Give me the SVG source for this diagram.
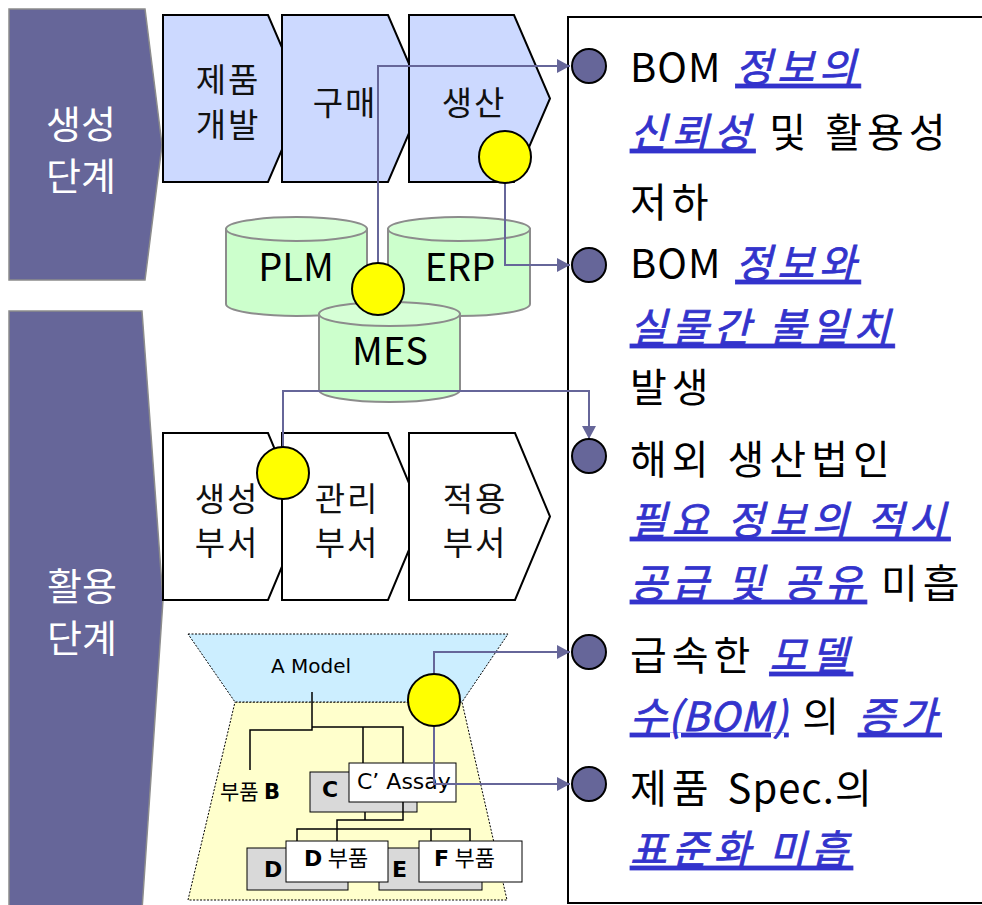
<svg xmlns="http://www.w3.org/2000/svg" width="982" height="905" viewBox="0 0 982 905">
  <style>
    .kr { font-family: "Noto Sans CJK KR", "Noto Sans", sans-serif; }
    .panel { fill: #666699; stroke: #8c8c8c; stroke-width: 1.5; }
    .ptxt { font-size: 38px; fill: #ffffff; text-anchor: middle; }
    .chev { stroke: #000; stroke-width: 2; stroke-linejoin: miter; }
    .blue { fill: #ccd9ff; }
    .white { fill: #ffffff; }
    .ctxt { font-size: 33px; fill: #111; text-anchor: middle; letter-spacing: 2px; }
    .cyl { fill: #ccffcc; stroke: #8c8c8c; stroke-width: 2; }
    .cyltop { fill: #d6ffd6; stroke: #8c8c8c; stroke-width: 2; }
    .dbtxt { font-size: 38px; fill: #000; text-anchor: middle; }
    .hot { fill: #ffff00; stroke: #000; stroke-width: 2; }
    .conn { fill: none; stroke: #666699; stroke-width: 2; }
    .bullet { fill: #666699; stroke: #000; stroke-width: 2; }
    .btxt { font-size: 40px; fill: #000; letter-spacing: 5px; }
    .lt { letter-spacing: 1px; }
    .em { fill: #3333cc; stroke: #3333cc; stroke-width: 0.8px; font-style: italic; text-decoration: underline; letter-spacing: 5px; }
    .em.tight { letter-spacing: 1px; }
    .dots { stroke: #000; stroke-width: 1; stroke-dasharray: 2 1.5; }
    .tree { fill: none; stroke: #000; stroke-width: 1.5; }
    .gbox { fill: #d9d9d9; stroke: #000; stroke-width: 1; }
    .wbox { fill: #ffffff; stroke: #000; stroke-width: 1; }
    .lat { font-family: "DejaVu Sans", "Liberation Sans", sans-serif; fill: #000; }
  </style>
  <defs>
    <marker id="arrow" markerUnits="userSpaceOnUse" markerWidth="14" markerHeight="14" refX="13" refY="7" orient="auto">
      <path d="M0,0 L13,7 L0,14 Z" fill="#666699"/>
    </marker>
  </defs>

  <!-- issues panel -->
  <g id="issues">
    <rect x="568" y="17" width="420" height="886" fill="#ffffff" stroke="#000" stroke-width="2"/>
    <g class="kr btxt">
      <text x="630" y="82"><tspan class="lt">BOM</tspan> <tspan class="em">정보의</tspan></text>
      <text x="630" y="147"><tspan class="em">신뢰성</tspan> 및 활용성</text>
      <text x="630" y="217">저하</text>
      <text x="630" y="278"><tspan class="lt">BOM</tspan> <tspan class="em">정보와</tspan></text>
      <text x="630" y="342"><tspan class="em">실물간 불일치</tspan></text>
      <text x="630" y="402">발생</text>
      <text x="630" y="474">해외 생산법인</text>
      <text x="630" y="535"><tspan class="em">필요 정보의 적시</tspan></text>
      <text x="630" y="598"><tspan class="em">공급 및 공유</tspan> 미흡</text>
      <text x="630" y="670">급속한 <tspan class="em">모델</tspan></text>
      <text x="630" y="731"><tspan class="em tight">수(BOM)</tspan> 의 <tspan class="em">증가</tspan></text>
      <text x="630" y="803">제품 <tspan class="lt">Spec.</tspan>의</text>
      <text x="630" y="864"><tspan class="em">표준화 미흡</tspan></text>
    </g>
  </g>

  <!-- stage panels -->
  <g id="stage-create">
    <path class="panel" d="M9,9 H145 L162,145 L145,280 H9 Z"/>
    <text class="kr ptxt" x="81" y="138">생성</text>
    <text class="kr ptxt" x="81" y="190">단계</text>
  </g>
  <g id="stage-use">
    <path class="panel" d="M9,311 H142 L163,600 L142,910 H9 Z"/>
    <text class="kr ptxt" x="82" y="600">활용</text>
    <text class="kr ptxt" x="82" y="652">단계</text>
  </g>

  <!-- process chevrons -->
  <g id="proc-dev">
    <path class="chev blue" d="M163,15 H268 L304,98.5 L268,182 H163 Z"/>
    <text class="kr ctxt" x="228" y="92">제품</text>
    <text class="kr ctxt" x="228" y="137">개발</text>
  </g>
  <g id="proc-buy">
    <path class="chev blue" d="M282,15 H388 L424,98.5 L388,182 H282 Z"/>
    <text class="kr ctxt" x="345" y="115">구매</text>
  </g>
  <g id="proc-make">
    <path class="chev blue" d="M409,15 H514 L550,98.5 L514,182 H409 Z"/>
    <text class="kr ctxt" x="474" y="115">생산</text>
  </g>

  <!-- systems -->
  <g id="db-plm">
    <path class="cyl" d="M226,229 V304 A70.5,12 0 0 0 367,304 V229 Z"/>
    <ellipse class="cyltop" cx="296.5" cy="229" rx="70.5" ry="12"/>
    <text class="kr dbtxt" x="296" y="281">PLM</text>
  </g>
  <g id="db-erp">
    <path class="cyl" d="M388,229 V304 A71,12 0 0 0 530,304 V229 Z"/>
    <ellipse class="cyltop" cx="459" cy="229" rx="71" ry="12"/>
    <text class="kr dbtxt" x="460" y="281">ERP</text>
  </g>
  <g id="db-mes">
    <path class="cyl" d="M319,314 V390 A70.5,12 0 0 0 460,390 V314 Z"/>
    <ellipse class="cyltop" cx="389.5" cy="314" rx="70.5" ry="12"/>
    <text class="kr dbtxt" x="390" y="365">MES</text>
  </g>

  <!-- departments -->
  <g id="dept-create">
    <path class="chev white" d="M163,433 H268 L303,516.5 L268,600 H163 Z"/>
    <text class="kr ctxt" x="227" y="511">생성</text>
    <text class="kr ctxt" x="227" y="555">부서</text>
  </g>
  <g id="dept-manage">
    <path class="chev white" d="M282,433 H388 L423,516.5 L388,600 H282 Z"/>
    <text class="kr ctxt" x="347" y="511">관리</text>
    <text class="kr ctxt" x="347" y="555">부서</text>
  </g>
  <g id="dept-apply">
    <path class="chev white" d="M409,433 H515 L550,516.5 L515,600 H409 Z"/>
    <text class="kr ctxt" x="475" y="511">적용</text>
    <text class="kr ctxt" x="475" y="555">부서</text>
  </g>

  <!-- BOM structure -->
  <g id="bom-tree">
    <polygon points="235,702 462,702 507,900 188,900" fill="#ffffcc" class="dots"/>
    <polygon points="188,634 508,634 462,702 235,702" fill="#cceeff" class="dots"/>
    <text class="lat" x="311" y="673" font-size="20" text-anchor="middle">A Model</text>
    <path class="tree" d="M312,692 V730 H250 V770"/>
    <path class="tree" d="M312,727 H403 V763"/>
    <path class="tree" d="M363,727 V772"/>
    <text x="220" y="799" font-size="21"><tspan class="kr">부품</tspan> <tspan class="lat" font-weight="bold">B</tspan></text>
    <rect class="gbox" x="310" y="772" width="107" height="40"/>
    <text class="lat" x="322" y="797" font-size="22" font-weight="bold">C</text>
    <rect class="wbox" x="349" y="763" width="107" height="39"/>
    <text class="lat" x="357" y="789" font-size="22">C’ Assay</text>
    <path class="tree" d="M365,812 V820"/>
    <path class="tree" d="M337,842 V820 H403 V802"/>
    <path class="tree" d="M297,849 V829 H470 V842"/>
    <path class="tree" d="M431,829 V842"/>
    <rect class="gbox" x="247" y="848" width="101" height="42"/>
    <text class="lat" x="264" y="877" font-size="22" font-weight="bold">D</text>
    <rect class="gbox" x="379" y="848" width="103" height="42"/>
    <text class="lat" x="392" y="877" font-size="22" font-weight="bold">E</text>
    <rect class="wbox" x="286" y="841" width="102" height="41"/>
    <text x="304" y="866" font-size="22"><tspan class="lat" font-weight="bold">D</tspan> <tspan class="kr">부품</tspan></text>
    <rect class="wbox" x="419" y="841" width="103" height="41"/>
    <text x="434" y="866" font-size="22"><tspan class="lat" font-weight="bold">F</tspan> <tspan class="kr">부품</tspan></text>
  </g>

  <!-- connectors -->
  <g id="connectors">
    <path class="conn" d="M378,263 V66 H570" marker-end="url(#arrow)"/>
    <path class="conn" d="M505,182 V265 H570" marker-end="url(#arrow)"/>
    <path class="conn" d="M283,447 V391 H589 V439" marker-end="url(#arrow)"/>
    <path class="conn" d="M434,673 V652 H570" marker-end="url(#arrow)"/>
    <path class="conn" d="M434,727 V784 H570" marker-end="url(#arrow)"/>
  </g>

  <!-- problem points -->
  <g id="hot-make"><circle class="hot" cx="505" cy="157" r="26"/></g>
  <g id="hot-systems"><circle class="hot" cx="378" cy="289" r="26"/></g>
  <g id="hot-dept"><circle class="hot" cx="283" cy="473" r="26"/></g>
  <g id="hot-bom"><circle class="hot" cx="434" cy="700" r="26"/></g>

  <!-- bullets -->
  <g id="bullets">
    <circle class="bullet" cx="589" cy="66" r="17"/>
    <circle class="bullet" cx="589" cy="265" r="17"/>
    <circle class="bullet" cx="589" cy="456" r="17"/>
    <circle class="bullet" cx="589" cy="652" r="17"/>
    <circle class="bullet" cx="589" cy="784" r="17"/>
  </g>
</svg>
